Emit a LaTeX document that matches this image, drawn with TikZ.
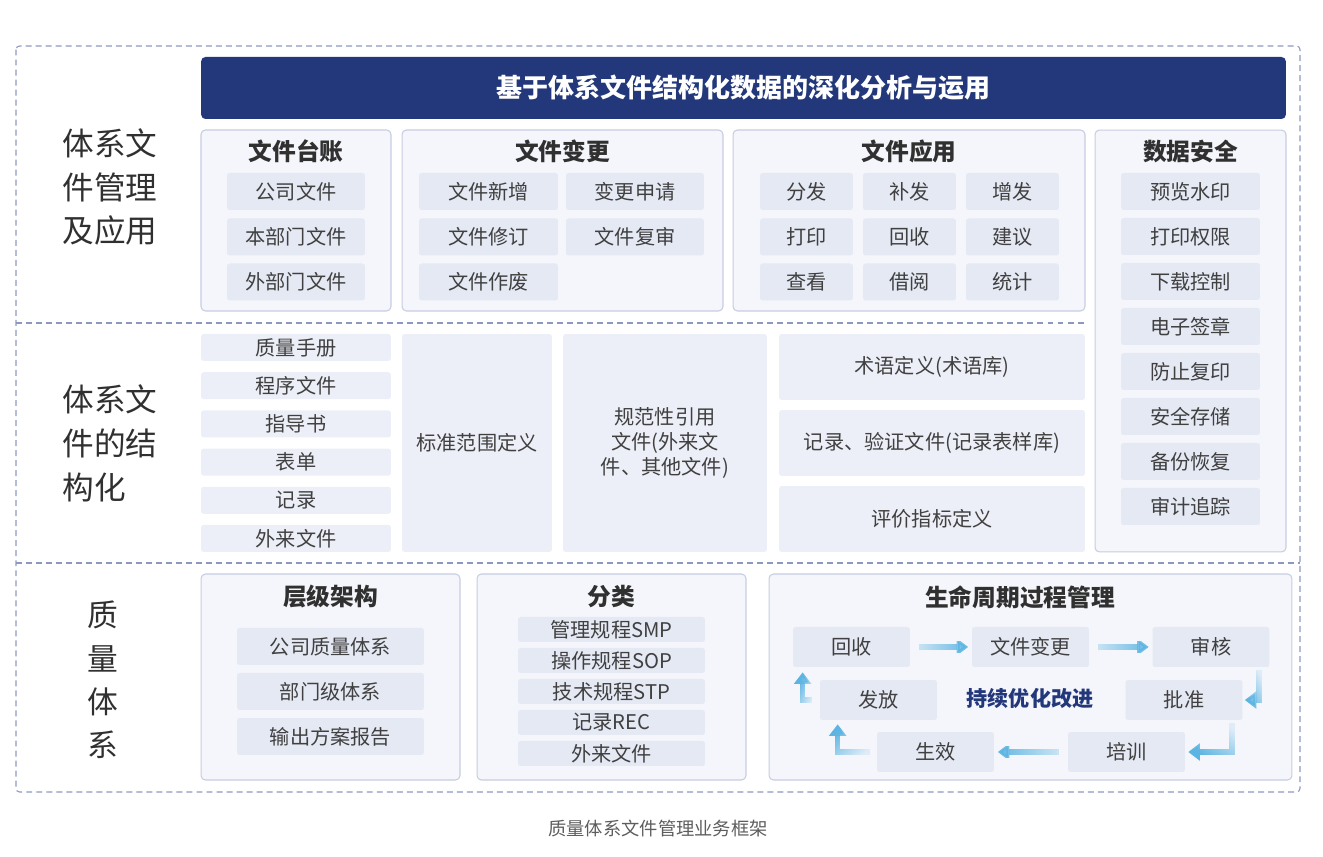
\documentclass[tikz,border=0pt]{standalone}
\usepackage{fontspec}
\setmainfont{Noto Sans CJK SC}
\usepackage{xcolor}
\usepackage{tikz}
\usetikzlibrary{arrows.meta, positioning, calc, fadings}

\definecolor{navy}{HTML}{23387A}
\definecolor{framec}{HTML}{8C98C0}
\definecolor{panelline}{HTML}{C6CCE2}
\definecolor{panelfill}{HTML}{F4F6FB}
\definecolor{itemfill}{HTML}{E5E9F4}
\definecolor{blockfill}{HTML}{ECEFF7}
\definecolor{textc}{HTML}{404040}
\definecolor{headc}{HTML}{303030}
\definecolor{flowc}{HTML}{5BB4E2}

\tikzfading[name=tailfade, left color=transparent!85, right color=transparent!0]

\begin{document}
\begin{tikzpicture}[
    x=0.02cm, y=-0.02cm,
    frame/.style={draw=framec, dash pattern=on 3.4pt off 2.3pt, line width=0.6pt},
    panel/.style={rectangle, draw=panelline, fill=panelfill, rounded corners=2.5pt, line width=0.6pt, inner sep=0pt},
    heading/.style={font=\fontsize{13.5}{15}\selectfont\bfseries, text=headc},
    item/.style={rectangle, fill=itemfill, rounded corners=1.5pt, inner sep=0pt, minimum height=0.74cm, font=\fontsize{11.5}{13}\selectfont, text=textc},
    block/.style={rectangle, fill=blockfill, rounded corners=1.5pt, inner sep=0pt, align=center, font=\fontsize{11.5}{14.5}\selectfont, text=textc},
    rowlabel/.style={align=left, font=\fontsize{18}{25}\selectfont, text=headc},
    flow/.style={-{Triangle[length=6.5pt,width=9.5pt]}, line width=3.2pt, draw=flowc, path fading=tailfade}
]
\useasboundingbox (0,0) rectangle (1323,857);

% Outer frame and row dividers
\draw[frame, rounded corners=2pt] (16,46) rectangle (1300,792);
\draw[frame] (16,323) -- (1085,323);
\draw[frame] (16,563) -- (1300,563);

% Banner
\node[rectangle, fill=navy, rounded corners=2.5pt, minimum width=21.7cm, minimum height=1.24cm, text=white, font=\fontsize{14.8}{16}\selectfont\bfseries] (banner) at (743.5,88) {基于体系文件结构化数据的深化分析与运用};

% Row labels
\node[rowlabel] (mgmt) at (110,187) {体系文\\件管理\\及应用};
\node[rowlabel] (struct) at (110,443) {体系文\\件的结\\构化};
\node[align=center, font=\fontsize{17.5}{24.7}\selectfont, text=headc] (qms) at (103,680) {质\\量\\体\\系};

% File ledger
\node[panel, minimum width=3.8cm, minimum height=3.62cm] (ledger) at (296,220.5) {};
\node[heading] (ledgerT) at (296,151) {文件台账};
\node[item, minimum width=2.76cm] (ledger1) at (296,191.5) {公司文件};
\node[item, minimum width=2.76cm] (ledger2) at (296,237) {本部门文件};
\node[item, minimum width=2.76cm] (ledger3) at (296,282) {外部门文件};

% File change
\node[panel, minimum width=6.42cm, minimum height=3.62cm] (change) at (562.5,220.5) {};
\node[heading] (changeT) at (562.5,151) {文件变更};
\node[item, minimum width=2.78cm] (change1) at (488.5,191.5) {文件新增};
\node[item, minimum width=2.76cm] (change2) at (635,191.5) {变更申请};
\node[item, minimum width=2.78cm] (change3) at (488.5,237) {文件修订};
\node[item, minimum width=2.76cm] (change4) at (635,237) {文件复审};
\node[item, minimum width=2.78cm] (change5) at (488.5,282) {文件作废};

% File application
\node[panel, minimum width=7.04cm, minimum height=3.62cm] (apply) at (909,220.5) {};
\node[heading] (applyT) at (909,151) {文件应用};
\node[item, minimum width=1.86cm] (apply1) at (806.5,191.5) {分发};
\node[item, minimum width=1.86cm] (apply2) at (909.5,191.5) {补发};
\node[item, minimum width=1.86cm] (apply3) at (1012.5,191.5) {增发};
\node[item, minimum width=1.86cm] (apply4) at (806.5,237) {打印};
\node[item, minimum width=1.86cm] (apply5) at (909.5,237) {回收};
\node[item, minimum width=1.86cm] (apply6) at (1012.5,237) {建议};
\node[item, minimum width=1.86cm] (apply7) at (806.5,282) {查看};
\node[item, minimum width=1.86cm] (apply8) at (909.5,282) {借阅};
\node[item, minimum width=1.86cm] (apply9) at (1012.5,282) {统计};

% Data security
\node[panel, minimum width=3.82cm, minimum height=8.44cm] (secure) at (1190.5,341) {};
\node[heading] (secureT) at (1190.5,151) {数据安全};
\node[item, minimum width=2.78cm] (secure1) at (1190.5,191.5) {预览水印};
\node[item, minimum width=2.78cm] (secure2) at (1190.5,236.5) {打印权限};
\node[item, minimum width=2.78cm] (secure3) at (1190.5,281.5) {下载控制};
\node[item, minimum width=2.78cm] (secure4) at (1190.5,326.5) {电子签章};
\node[item, minimum width=2.78cm] (secure5) at (1190.5,371.5) {防止复印};
\node[item, minimum width=2.78cm] (secure6) at (1190.5,416.5) {安全存储};
\node[item, minimum width=2.78cm] (secure7) at (1190.5,461.5) {备份恢复};
\node[item, minimum width=2.78cm] (secure8) at (1190.5,506.5) {审计追踪};

% Structured documents
\node[block, minimum width=3.8cm, minimum height=0.54cm] (doc1) at (296,347.5) {质量手册};
\node[block, minimum width=3.8cm, minimum height=0.54cm] (doc2) at (296,385.7) {程序文件};
\node[block, minimum width=3.8cm, minimum height=0.54cm] (doc3) at (296,423.9) {指导书};
\node[block, minimum width=3.8cm, minimum height=0.54cm] (doc4) at (296,462.1) {表单};
\node[block, minimum width=3.8cm, minimum height=0.54cm] (doc5) at (296,500.3) {记录};
\node[block, minimum width=3.8cm, minimum height=0.54cm] (doc6) at (296,538.5) {外来文件};
\node[block, minimum width=3.0cm, minimum height=4.36cm] (scope) at (477,443) {标准范围定义};
\node[block, minimum width=4.08cm, minimum height=4.36cm] (normref) at (665,443) {规范性引用\\文件(外来文\\件、其他文件)};
\node[block, minimum width=6.12cm, minimum height=1.32cm] (terms) at (932,367) {术语定义(术语库)};
\node[block, minimum width=6.12cm, minimum height=1.32cm] (records) at (932,443) {记录、验证文件(记录表样库)};
\node[block, minimum width=6.12cm, minimum height=1.32cm] (metrics) at (932,519) {评价指标定义};

% Hierarchy
\node[panel, minimum width=5.18cm, minimum height=4.12cm] (hier) at (330.5,677) {};
\node[heading] (hierT) at (330.5,597) {层级架构};
\node[item, minimum width=3.74cm] (hier1) at (330.5,646.5) {公司质量体系};
\node[item, minimum width=3.74cm] (hier2) at (330.5,691.5) {部门级体系};
\node[item, minimum width=3.74cm] (hier3) at (330.5,736.5) {输出方案报告};

% Classification
\node[panel, minimum width=5.38cm, minimum height=4.12cm] (classif) at (611.5,677) {};
\node[heading] (classifT) at (611.5,597) {分类};
\node[item, minimum width=3.74cm, minimum height=0.5cm] (classif1) at (611.5,629.5) {管理规程SMP};
\node[item, minimum width=3.74cm, minimum height=0.5cm] (classif2) at (611.5,660.5) {操作规程SOP};
\node[item, minimum width=3.74cm, minimum height=0.5cm] (classif3) at (611.5,691.5) {技术规程STP};
\node[item, minimum width=3.74cm, minimum height=0.5cm] (classif4) at (611.5,722.5) {记录REC};
\node[item, minimum width=3.74cm, minimum height=0.5cm] (classif5) at (611.5,753.5) {外来文件};

% Life cycle
\node[panel, minimum width=10.46cm, minimum height=4.12cm] (life) at (1030.5,677) {};
\node[heading] (lifeT) at (1020,597) {生命周期过程管理};
\node[item, minimum width=2.34cm, minimum height=0.8cm] (recover) at (851.5,647) {回收};
\node[item, minimum width=2.34cm, minimum height=0.8cm] (revise) at (1030.5,647) {文件变更};
\node[item, minimum width=2.34cm, minimum height=0.8cm] (review) at (1211,647) {审核};
\node[item, minimum width=2.34cm, minimum height=0.8cm] (approve) at (1184,700) {批准};
\node[item, minimum width=2.34cm, minimum height=0.8cm] (issue) at (878.5,700) {发放};
\node[item, minimum width=2.34cm, minimum height=0.8cm] (effect) at (935.5,752) {生效};
\node[item, minimum width=2.34cm, minimum height=0.8cm] (train) at (1126.5,752) {培训};
\node[font=\fontsize{12}{14}\selectfont\bfseries, text=navy] (improve) at (1030,698) {持续优化改进};

\draw[flow, shorten <=5pt, shorten >=2pt] (recover) -- (revise);
\draw[flow, shorten <=5pt, shorten >=2pt] (revise) -- (review);
\draw[flow, fading angle=225] ($(review.south east)+(-11,3)$) |- ($(approve.east)+(2,0)$);
\draw[flow, fading angle=225] ($(approve.south east)+(-11,3)$) |- ($(train.east)+(3,0)$);
\draw[flow, fading angle=180, shorten <=5pt, shorten >=2pt] (train) -- (effect);
\draw[flow, fading angle=135] ($(effect.west)+(-7,0)$) -| ($(issue.south west)+(18,4)$);
\draw[flow, fading angle=135] ($(issue.west)+(-8,0)$) -| ($(recover.south west)+(10,5)$);

% Caption
\node[font=\fontsize{10.4}{12}\selectfont, text=textc!85] (caption) at (658,829) {质量体系文件管理业务框架};

\end{tikzpicture}
\end{document}
